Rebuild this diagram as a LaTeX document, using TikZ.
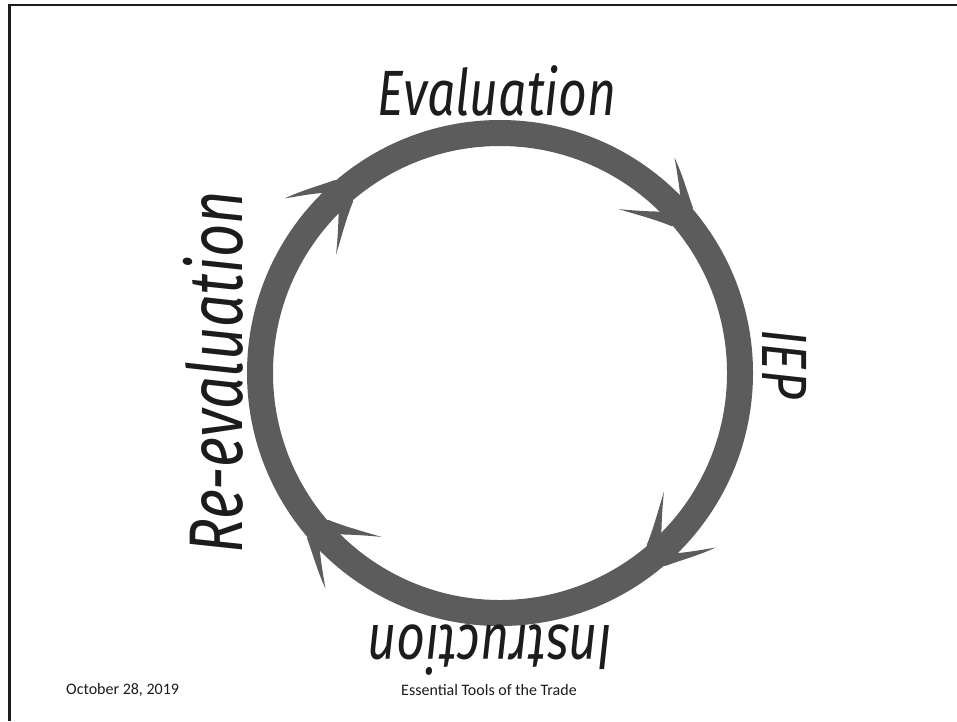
\documentclass[tikz,border=0pt]{standalone}
\usepackage{fontspec}
\setmainfont{Carlito}
\newfontfamily\handfont{Fira Sans}
\definecolor{ringcol}{RGB}{92,92,92}
\definecolor{inkcol}{RGB}{28,28,28}
\newcommand\hw[1]{\scalebox{0.78}[1]{#1}}
\newcommand\hwb[1]{\scalebox{0.76}[1]{#1}}
\tikzset{
  ring/.style={draw=ringcol, line width=26pt},
  barb/.style={fill=ringcol},
  hand/.style={font=\handfont\itshape\fontsize{64}{64}\selectfont, text=inkcol, inner sep=0pt},
  handbig/.style={font=\handfont\itshape\fontsize{76}{76}\selectfont, text=inkcol, inner sep=0pt},
  foot/.style={font=\fontsize{16}{16}\selectfont, text=inkcol, inner sep=0pt},
  frameline/.style={draw=inkcol, line width=2.2pt}
}
\begin{document}
\begin{tikzpicture}[x=1pt,y=1pt]
\useasboundingbox (0,0) rectangle (957,-721);
\fill[white] (0,0) rectangle (957,-721);
% frame
\coordinate (tl) at (9.5,-5);
\coordinate (tr) at (957,-5);
\coordinate (bl) at (9.5,-721);
\draw[frameline] (tr) -- (tl) -- (bl);
% ring
\coordinate (O) at (500,-373);
\draw[ring] (O) circle[radius=240];
% arrowheads (clockwise)
\foreach \a in {41,131,221,311}{
  \begin{scope}[shift={(O)}]
  \begin{scope}[shift={(\a:240)}, rotate=\a-90]
    \fill[barb] (6,0) -- (2,14) .. controls (-14,20) and (-30,28) .. (-48,33)
      .. controls (-33,24) and (-22,17) .. (-16,12.5) -- (-16,-12.5)
      .. controls (-22,-19) and (-32,-30) .. (-46,-43)
      .. controls (-30,-33) and (-14,-22) .. (2,-14) -- cycle;
  \end{scope}
  \end{scope}
}
% labels
\node[hand, anchor=base] (eval) at (497,-115) {\hw{Evaluation}};
\node[hand, anchor=base, rotate=-90] (iep) at (762,-364) {\hw{IEP}};
\node[hand, anchor=base, rotate=180] (instr) at (490,-625) {\hw{Instruction}};
\node[handbig, anchor=base, rotate=90] (reeval) at (242,-372) {\hwb{Re-evaluation}};
% footer
\node[foot, anchor=west] (date) at (66,-690) {October 28, 2019};
\node[foot] (title) at (489,-690) {Essential Tools of the Trade};
\end{tikzpicture}
\end{document}
